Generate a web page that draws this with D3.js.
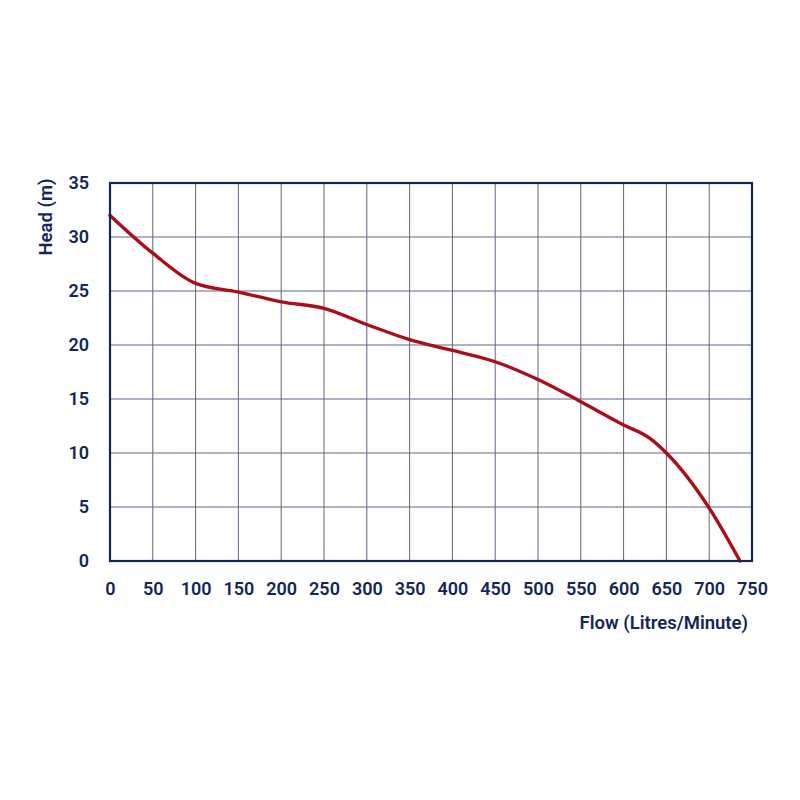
<!DOCTYPE html>
<html>
<head>
<meta charset="utf-8">
<script src="https://cdn.jsdelivr.net/npm/d3@7"></script>
<style>
  body { margin: 0; background: #fff; }
  svg text { font-family: Roboto, "Noto Sans", sans-serif; font-weight: 600; fill: #13265a; }
</style>
</head>
<body>
<div id="chartDiv"></div>
<script>
// pump curve
let flow = [0, 50, 100, 150, 200, 250, 300, 350, 400, 450, 500, 550, 600, 630, 650, 700, 736];
let head = [32, 28.5, 25.7, 24.9, 24.0, 23.4, 21.9, 20.5, 19.5, 18.45, 16.8, 14.75, 12.6, 11.4, 10.0, 4.9, 0];
let xTicks = [0, 50, 100, 150, 200, 250, 300, 350, 400, 450, 500, 550, 600, 650, 700, 750];
let yTicks = [0, 5, 10, 15, 20, 25, 30, 35];

let margin = {top: 183, right: 48, bottom: 239, left: 110};
let width = 800 - margin.left - margin.right;
let height = 800 - margin.top - margin.bottom;

let svg = d3.select('#chartDiv')
    .append('svg')
    .attr('width', 800)
    .attr('height', 800)
    .append('g')
    .attr('transform', 'translate(' + margin.left + ',' + margin.top + ')');

let xScale = d3.scaleLinear().domain([0, 750]).range([0, width]);
let yScale = d3.scaleLinear().domain([0, 35]).range([height, 0]);

// grid
svg.append('g')
    .selectAll('line')
    .data(xTicks)
    .enter()
    .append('line')
    .attr('x1', d => xScale(d)).attr('x2', d => xScale(d))
    .attr('y1', 0).attr('y2', height)
    .attr('stroke', '#5d6486').attr('stroke-width', 1);

svg.append('g')
    .selectAll('line')
    .data(yTicks)
    .enter()
    .append('line')
    .attr('x1', 0).attr('x2', width)
    .attr('y1', d => yScale(d)).attr('y2', d => yScale(d))
    .attr('stroke', '#5d6486').attr('stroke-width', 1);

// axes, labels only
let xAxis = svg.append('g')
    .attr('transform', 'translate(0,' + height + ')')
    .call(d3.axisBottom(xScale).tickValues(xTicks).tickSize(0).tickPadding(21));
xAxis.select('.domain').remove();
xAxis.selectAll('text').attr('font-size', 18).style('font-family', 'Roboto, sans-serif');

let yAxis = svg.append('g')
    .call(d3.axisLeft(yScale).tickValues(yTicks).tickSize(0).tickPadding(21));
yAxis.select('.domain').remove();
yAxis.selectAll('text').attr('font-size', 18).style('font-family', 'Roboto, sans-serif');

// curve
let line = d3.line()
    .x((d, i) => xScale(flow[i]))
    .y(d => yScale(d))
    .curve(d3.curveMonotoneX);

svg.append('path')
    .datum(head)
    .attr('d', line)
    .attr('fill', 'none')
    .attr('stroke', '#ad0d16')
    .attr('stroke-width', 3.4)
    .attr('stroke-linecap', 'round');

// frame
svg.append('rect')
    .attr('width', width).attr('height', height)
    .attr('fill', 'none')
    .attr('stroke', '#13265a').attr('stroke-width', 2.2);

// titles
svg.append('text')
    .attr('x', width - 4)
    .attr('y', height + 68)
    .attr('text-anchor', 'end')
    .attr('font-size', 18.5)
    .text('Flow (Litres/Minute)');

svg.append('text')
    .attr('transform', 'translate(-58,34) rotate(-90)')
    .attr('text-anchor', 'middle')
    .attr('font-size', 18.5)
    .text('Head (m)');
</script>
</body>
</html>
